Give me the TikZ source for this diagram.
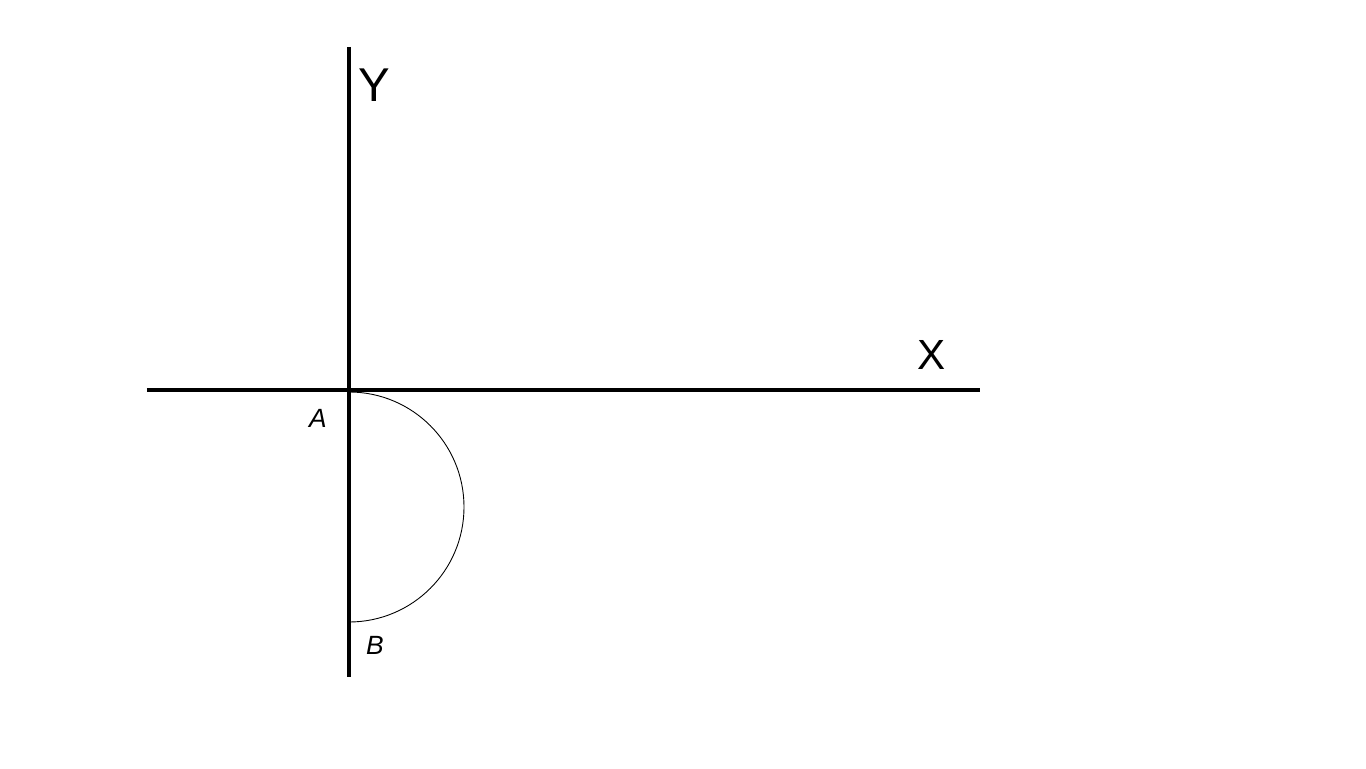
\documentclass[tikz,border=0pt]{standalone}
\usepackage{fontspec}
\setmainfont{Liberation Sans}
\usetikzlibrary{positioning}

\begin{document}
\begin{tikzpicture}
\def\r{2.3}
\def\xl{-4.04};
\def\xr{12.62};
\def\yt{6.86};
\def\yb{-5.74};

\useasboundingbox (-6.98,-7.56) rectangle (20.34,7.8);

\coordinate(o) at (0, 0);
\coordinate(l) at (\xl, 0);
\coordinate(r) at (\xr, 0);
\coordinate(t) at (0, \yt);
\coordinate(b) at (0, \yb);
\coordinate(a) at (0, -0.04);
\coordinate(c) at (0, -0.04 - 2 * \r);

\draw[line width=2.3pt] (l) -- (r);
\draw[line width=2.3pt] (t) -- (b);
\draw[line width=0.5pt] (a) arc[start angle=90, end angle=-90, radius=\r];

\node(ly) at (0.5, 6.1) {\fontsize{27}{30}\selectfont Y};
\node(lx) at (11.66, 0.7) {\fontsize{24}{28}\selectfont X};
\node(la) at (-0.62, -0.56) {\fontsize{15}{18}\selectfont\itshape A};
\node(lb) at (0.52, -5.1) {\fontsize{15}{18}\selectfont\itshape B};
\end{tikzpicture}
\end{document}
